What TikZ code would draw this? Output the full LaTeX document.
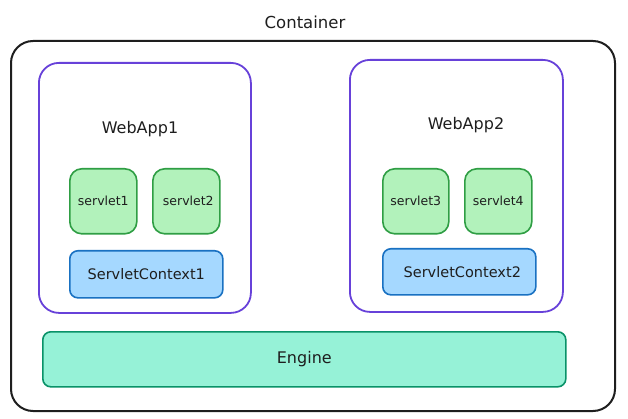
\documentclass[tikz,border=0pt]{standalone}
\usepackage{fontspec}
\setmainfont{DejaVu Sans}
\definecolor{ink}{HTML}{1E1E1E}
\definecolor{violetline}{HTML}{6741D9}
\definecolor{servfill}{HTML}{B2F2BB}
\definecolor{servline}{HTML}{2F9E44}
\definecolor{ctxfill}{HTML}{A5D8FF}
\definecolor{ctxline}{HTML}{1971C2}
\definecolor{engfill}{HTML}{96F2D7}
\definecolor{engline}{HTML}{099268}
\tikzset{
  boxbase/.style={draw, anchor=north west, inner sep=0pt, text=ink},
  containerbox/.style={boxbase, draw=ink, line width=2pt, rounded corners=22pt, fill=white},
  appbox/.style={boxbase, draw=violetline, line width=1.8pt, rounded corners=20pt, fill=white},
  servletbox/.style={boxbase, draw=servline, fill=servfill, line width=1.6pt, rounded corners=12pt, font=\fontsize{12.5}{14}\selectfont},
  ctxbox/.style={boxbase, draw=ctxline, fill=ctxfill, line width=1.6pt, rounded corners=8pt, font=\fontsize{14.5}{16}\selectfont},
  enginebox/.style={boxbase, draw=engline, fill=engfill, line width=1.6pt, rounded corners=8pt, font=\fontsize{16}{18}\selectfont},
  titletext/.style={text=ink, inner sep=0pt, font=\fontsize{16.5}{18}\selectfont},
  apptext/.style={text=ink, inner sep=0pt, font=\fontsize{16}{18}\selectfont},
}
\begin{document}
\begin{tikzpicture}[x=1pt,y=-1pt]
\useasboundingbox (0,0) rectangle (628,419);
\node[titletext] (ctitle) at (305,22) {Container};
\node[containerbox, minimum width=604pt, minimum height=370pt] (container) at (10,40) {};
% WebApp1
\node[appbox, minimum width=212pt, minimum height=250pt] (app1) at (38,62) {};
\node[apptext] (app1label) at (140,129) {WebApp1};
\node[servletbox, minimum width=67pt, minimum height=65pt] (s1) at (69,168) {servlet1};
\node[servletbox, minimum width=67pt, minimum height=65pt] (s2) at (152,168) {\hspace*{4pt}servlet2};
\node[ctxbox, minimum width=153pt, minimum height=47pt] (ctx1) at (69,250) {ServletContext1};
% WebApp2
\node[appbox, minimum width=213pt, minimum height=252pt] (app2) at (349,59) {};
\node[apptext] (app2label) at (466,125) {WebApp2};
\node[servletbox, minimum width=66pt, minimum height=65pt] (s3) at (382,168) {servlet3};
\node[servletbox, minimum width=67pt, minimum height=65pt] (s4) at (464,168) {servlet4};
\node[ctxbox, minimum width=153pt, minimum height=46pt] (ctx2) at (382,248) {\hspace*{6pt}ServletContext2};
% Engine
\node[enginebox, minimum width=523pt, minimum height=55pt] (engine) at (42,331) {Engine};
\end{tikzpicture}
\end{document}
